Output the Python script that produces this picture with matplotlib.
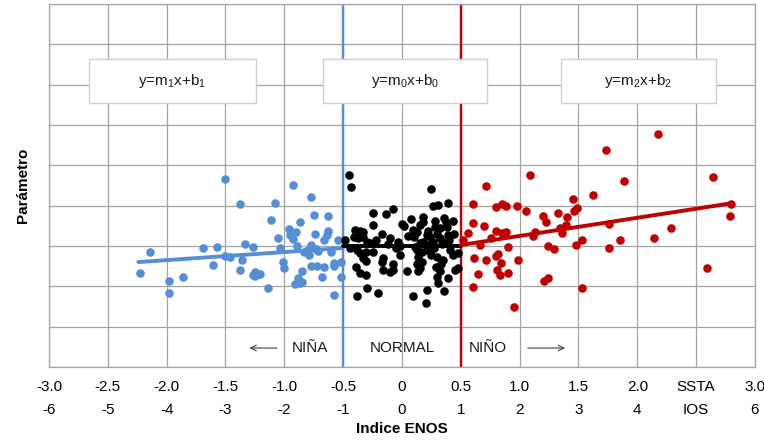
import numpy as np
import matplotlib.pyplot as plt
from matplotlib.patches import Rectangle

plt.rcParams['font.family'] = ['Liberation Sans', 'DejaVu Sans']
plt.rcParams['mathtext.fontset'] = 'custom'
plt.rcParams['mathtext.rm'] = 'Liberation Sans'
plt.rcParams['mathtext.it'] = 'Liberation Sans'

BLUE = '#558ED5'
RED = '#C00000'
GRID = '#A3A3A3'

# eje x: SSTA y su equivalente IOS
ssta_ticks = [-3.0, -2.5, -2.0, -1.5, -1.0, -0.5, 0, 0.5, 1.0, 1.5, 2.0, 2.5, 3.0]
ssta_labels = ['-3.0', '-2.5', '-2.0', '-1.5', '-1.0', '-0.5', '0', '0.5', '1.0', '1.5', '2.0', 'SSTA', '3.0']
ios_labels = ['-6', '-5', '-4', '-3', '-2', '-1', '0', '1', '2', '3', '4', 'IOS', '6']

# puntos NIÑA (SSTA < -0.5)
nina_x = [-1.50, -0.93, -1.38, -1.08, -0.77, -1.11, -0.87, -0.75, -0.63, -0.96,
          -0.90, -0.74, -0.63, -0.64, -1.05, -0.93, -0.54, -0.66, -1.33, -1.27,
          -1.69, -1.57, -2.14, -1.04, -0.89, -0.77, -0.83, -0.71, -0.60, -0.79,
          -1.46, -1.50, -1.36, -1.01, -0.58, -0.52, -1.61, -0.77, -0.72, -0.58,
          -0.66, -1.00, -1.38, -0.85, -2.23, -1.25, -1.27, -1.21, -1.25, -1.86,
          -0.68, -0.52, -1.98, -0.88, -0.87, -0.91, -0.85, -1.14, -1.98, -0.58,
          -0.80, -0.95, -0.73]
nina_y = [4.66, 4.51, 4.04, 4.07, 4.22, 3.65, 3.60, 3.77, 3.75, 3.42,
          3.35, 3.30, 3.37, 3.28, 3.20, 3.18, 3.15, 3.15, 3.05, 2.98,
          2.95, 2.98, 2.85, 2.95, 3.00, 3.03, 2.85, 2.88, 2.85, 2.78,
          2.73, 2.75, 2.65, 2.60, 2.58, 2.60, 2.53, 2.50, 2.50, 2.50,
          2.48, 2.45, 2.40, 2.38, 2.33, 2.36, 2.28, 2.30, 2.26, 2.23,
          2.23, 2.23, 2.13, 2.20, 2.08, 2.06, 2.10, 1.96, 1.84, 1.79,
          2.90, 3.28, 2.92]

# puntos NORMAL (-0.5 a 0.5)
normal_x = [-0.45, -0.43, 0.25, 0.26, 0.31, 0.39, -0.25, -0.14, -0.08, 0.08,
            0.18, 0.18, 0.28, 0.36, 0.37, 0.43, -0.25, 0.00, 0.02, 0.15,
            0.28, 0.32, 0.38, -0.40, -0.36, -0.33, 0.09, 0.13, 0.10, -0.17,
            -0.10, 0.21, 0.24, 0.30, 0.32, 0.39, 0.40, -0.41, -0.37, -0.33,
            -0.30, -0.27, -0.03, -0.02, 0.15, 0.18, 0.21, 0.26, 0.34, 0.37,
            -0.48, -0.44, -0.38, -0.36, -0.31, -0.25, -0.02, 0.13, 0.17, 0.21,
            0.41, 0.43, 0.48, 0.14, 0.25, 0.30, -0.33, -0.31, -0.16, -0.17,
            0.17, 0.13, -0.08, -0.39, -0.16, -0.10, -0.08, 0.04, 0.15, 0.14,
            0.29, 0.32, 0.45, 0.48, -0.36, -0.31, 0.30, 0.39, 0.31, -0.30,
            0.21, 0.36, -0.38, -0.20, 0.09, 0.20, 0.05, -0.05, 0.22, 0.27,
            0.35, 0.44, -0.12, 0.11, -0.22, 0.33]
normal_y = [4.76, 4.47, 4.42, 4.00, 4.02, 4.07, 3.82, 3.80, 3.92, 3.67,
            3.72, 3.60, 3.62, 3.70, 3.60, 3.62, 3.52, 3.55, 3.50, 3.52,
            3.47, 3.45, 3.47, 3.40, 3.37, 3.35, 3.40, 3.35, 3.23, 3.30,
            3.20, 3.28, 3.23, 3.30, 3.20, 3.28, 3.15, 3.22, 3.20, 3.22,
            3.10, 3.08, 3.10, 3.00, 3.08, 3.10, 3.03, 3.10, 3.05, 3.10,
            3.15, 2.95, 2.90, 2.83, 2.85, 2.85, 2.78, 2.90, 2.85, 2.90,
            2.90, 2.78, 2.83, 2.73, 2.78, 2.73, 2.70, 2.63, 2.70, 2.60,
            2.60, 2.55, 2.55, 2.48, 2.40, 2.36, 2.40, 2.38, 2.45, 2.38,
            2.48, 2.38, 2.40, 2.45, 2.33, 2.28, 2.23, 2.20, 2.08, 1.96,
            1.91, 1.89, 1.76, 1.84, 1.76, 1.59, 3.25, 2.95, 3.38, 2.95,
            2.65, 3.30, 3.05, 2.98, 3.15, 2.55]

# puntos NIÑO (SSTA > 0.5)
nino_x = [1.09, 0.71, 0.60, 0.80, 0.85, 0.88, 0.98, 1.05, 1.45, 1.62,
          1.20, 1.22, 1.33, 1.40, 1.46, 1.49, 0.60, 0.70, 0.56, 0.52,
          0.80, 0.85, 0.88, 0.76, 1.13, 1.11, 1.34, 1.39, 1.36, 0.66,
          0.90, 1.24, 1.29, 1.48, 1.53, 0.61, 0.71, 0.80, 0.82, 0.84,
          0.99, 0.81, 0.83, 0.90, 0.65, 1.21, 1.24, 0.60, 1.53, 0.95,
          2.18, 1.73, 1.89, 2.64, 2.80, 2.79, 1.76, 2.29, 2.14, 1.85,
          1.76, 2.59]
nino_y = [4.76, 4.49, 4.04, 3.97, 4.04, 4.00, 4.00, 3.87, 4.17, 4.27,
          3.75, 3.60, 3.82, 3.72, 3.87, 3.95, 3.57, 3.50, 3.33, 3.15,
          3.37, 3.33, 3.35, 3.20, 3.35, 3.25, 3.45, 3.52, 3.33, 3.03,
          2.98, 3.00, 2.93, 3.03, 3.15, 2.70, 2.65, 2.75, 2.80, 2.58,
          2.65, 2.40, 2.28, 2.33, 2.30, 2.13, 2.20, 1.98, 1.96, 1.49,
          5.78, 5.38, 4.62, 4.71, 4.04, 3.75, 3.55, 3.45, 3.20, 3.15,
          2.95, 2.46]

# rectas de ajuste: [x_inicio, x_fin], pendiente, intercepto
nina_fit = ([-2.24, -0.5], 0.20, 3.05)
normal_fit = ([-0.5, 0.5], 0.0, 3.0)
nino_fit = ([0.5, 2.81], 0.45, 2.80)

# cajas con ecuaciones: (x0, x1, y0, y1, texto)
eq_boxes = [(-2.66, -1.24, 6.55, 7.64, r'y=m$_1$x+b$_1$'),
            (-0.67, 0.72, 6.55, 7.64, r'y=m$_0$x+b$_0$'),
            (1.35, 2.67, 6.55, 7.64, r'y=m$_2$x+b$_2$')]

fig = plt.figure(figsize=(7.64, 4.48), dpi=100)
ax = fig.add_axes([0.0641, 0.1808, 0.9241, 0.8102])

ax.set_xlim(-3, 3)
ax.set_ylim(0, 9)
ax.set_xticks(ssta_ticks)
ax.set_xticklabels([f'{a}\n{b}' for a, b in zip(ssta_labels, ios_labels)],
                   fontsize=11, linespacing=1.85,
                   family=['Liberation Sans Narrow', 'Liberation Sans'])
ax.set_yticks(np.arange(0, 10, 1))
ax.set_yticklabels([])
ax.tick_params(length=0)
ax.tick_params(axis='x', pad=9, colors='black')
ax.grid(True, color=GRID, linewidth=0.9)
ax.set_axisbelow(True)
for s in ax.spines.values():
    s.set_color(GRID)
    s.set_linewidth(0.9)

ax.set_xlabel('Indice ENOS', fontsize=11, fontweight='bold', labelpad=4)
ax.set_ylabel('Parámetro', fontsize=11, fontweight='bold', labelpad=10)

ax.axvline(-0.5, color=BLUE, linewidth=1.7, zorder=2)
ax.axvline(0.5, color=RED, linewidth=1.7, zorder=2)

ax.scatter(nina_x, nina_y, s=38, color=BLUE, zorder=3, linewidths=0)
ax.scatter(normal_x, normal_y, s=38, color='black', zorder=3, linewidths=0)
ax.scatter(nino_x, nino_y, s=38, color=RED, zorder=3, linewidths=0)

for (xs, m, b), c in zip([nina_fit, normal_fit, nino_fit], [BLUE, 'black', RED]):
    xs = np.array(xs)
    ax.plot(xs, m * xs + b, color=c, linewidth=2.8, zorder=4, solid_capstyle='round')

for x0, x1, y0, y1, t in eq_boxes:
    ax.add_patch(Rectangle((x0, y0), x1 - x0, y1 - y0, facecolor='white',
                           edgecolor='#CFCFCF', linewidth=1, zorder=5))
    ax.text((x0 + x1) / 2, (y0 + y1) / 2, t, ha='center', va='center',
            fontsize=11, color='#1a1a1a', zorder=6)

ax.text(-0.78, 0.47, 'NIÑA', ha='center', va='center', fontsize=11, color='#1a1a1a', zorder=6)
ax.text(0.0, 0.47, 'NORMAL', ha='center', va='center', fontsize=11, color='#1a1a1a', zorder=6)
ax.text(0.73, 0.47, 'NIÑO', ha='center', va='center', fontsize=11, color='#1a1a1a', zorder=6)
ax.annotate('', xy=(-1.32, 0.47), xytext=(-1.04, 0.47),
            arrowprops=dict(arrowstyle='->', color='#404040', linewidth=0.8))
ax.annotate('', xy=(1.41, 0.47), xytext=(1.045, 0.47),
            arrowprops=dict(arrowstyle='->', color='#404040', linewidth=0.8))

fig.savefig('out.png', dpi=100)
